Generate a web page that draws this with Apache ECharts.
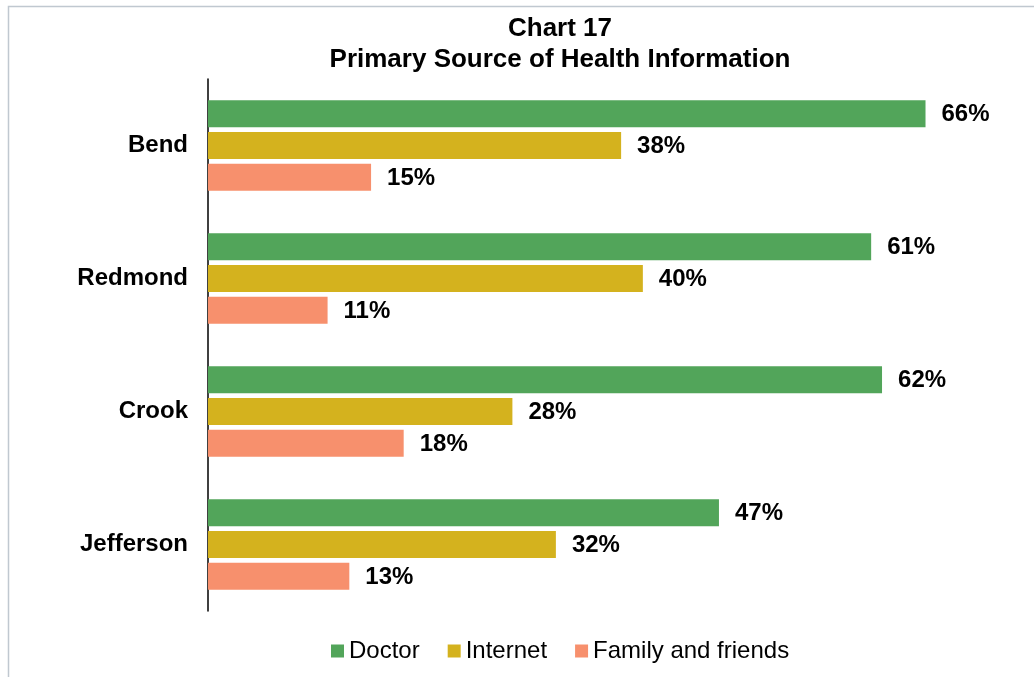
<!DOCTYPE html>
<html>
<head>
<meta charset="utf-8">
<script src="https://cdn.jsdelivr.net/npm/echarts@6/dist/echarts.min.js"></script>
<style>
  html, body { margin: 0; padding: 0; background: #ffffff; }
  #chart { width: 1034px; height: 677px; }
</style>
</head>
<body>
<div id="chart"></div>
<script>
// Survey areas, top to bottom
const categories = ['Bend', 'Redmond', 'Crook', 'Jefferson'];

// Share of respondents (%) naming each source as primary
const doctor = [66, 61, 62, 47];
const internet = [38, 40, 28, 32];
const familyFriends = [15, 11, 18, 13];

const seriesNames = ['Doctor', 'Internet', 'Family and friends'];
const colors = ['#52a55a', '#d4b21e', '#f7906d'];

const FONT = '"Liberation Sans", Arial, sans-serif';

const chart = echarts.init(document.getElementById('chart'), null, { renderer: 'canvas' });

function barSeries(name, data, color) {
  return {
    name: name,
    type: 'bar',
    data: data,
    barWidth: 27,
    barGap: '18%',
    itemStyle: { color: color },
    label: {
      show: true,
      position: 'right',
      distance: 16,
      offset: [0, 1],
      formatter: '{c}%',
      color: '#000',
      fontFamily: FONT,
      fontWeight: 'bold',
      fontSize: 24
    },
    emphasis: { disabled: true }
  };
}

chart.setOption({
  animation: false,
  backgroundColor: '#ffffff',
  color: colors,
  title: {
    text: 'Chart 17\nPrimary Source of Health Information',
    left: 555,
    textAlign: 'center',
    top: 8,
    textStyle: {
      fontFamily: FONT,
      fontWeight: 'bold',
      fontSize: 26,
      lineHeight: 31,
      color: '#000'
    }
  },
  legend: {
    top: 639,
    left: 331,
    padding: 0,
    itemWidth: 13,
    itemHeight: 13,
    itemGap: 28,
    icon: 'rect',
    textStyle: { fontFamily: FONT, fontSize: 24, color: '#000' },
    data: seriesNames
  },
  graphic: [{
    type: 'rect',
    shape: { x: 8.5, y: 6.5, width: 1200, height: 1000 },
    style: { fill: 'none', stroke: '#c0c8d0', lineWidth: 1.5 },
    silent: true
  }],
  grid: {
    left: 208,
    right: 65,
    top: 79,
    bottom: 66,
    containLabel: false
  },
  xAxis: {
    type: 'value',
    min: 0,
    max: 70,
    show: false,
    splitLine: { show: false }
  },
  yAxis: {
    type: 'category',
    data: categories,
    inverse: true,
    axisLine: { show: true, lineStyle: { color: '#000', width: 1.5 } },
    axisTick: { show: false },
    axisLabel: {
      margin: 20,
      padding: [3, 0, 0, 0],
      color: '#000',
      fontFamily: FONT,
      fontWeight: 'bold',
      fontSize: 24
    }
  },
  series: [
    barSeries(seriesNames[0], doctor, colors[0]),
    barSeries(seriesNames[1], internet, colors[1]),
    barSeries(seriesNames[2], familyFriends, colors[2])
  ]
});
</script>
</body>
</html>
